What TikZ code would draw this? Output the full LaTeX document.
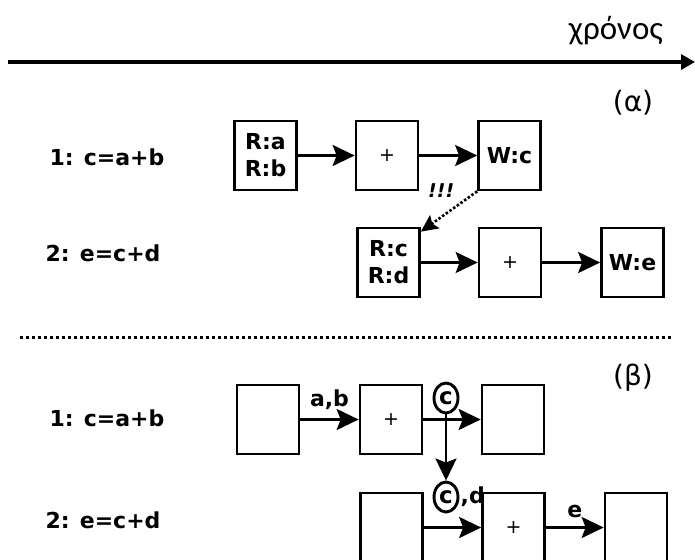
\documentclass[tikz,border=0pt]{standalone}
\usepackage{fontspec}
\setmainfont{DejaVu Sans}
\newfontfamily\timefont{Carlito}
\usetikzlibrary{arrows.meta,shapes.geometric,positioning}

\begin{document}
\begin{tikzpicture}[
  x=1pt,y=-1pt,
  box/.style={draw,line width=2.7pt,minimum width=62pt,minimum height=69pt,inner sep=0pt,align=center,font=\bfseries\fontsize{22}{27}\selectfont},
  plus/.style={box,font=\fontsize{19}{22}\selectfont},
  flow/.style={-{Stealth[length=22pt,width=21pt,inset=4pt]},line width=2.7pt},
  instr/.style={anchor=west,font=\bfseries\fontsize{22}{26}\selectfont},
  tag/.style={font=\fontsize{28}{30}\selectfont},
  circled/.style={draw,ellipse,line width=2.9pt,inner sep=0pt,minimum width=24pt,minimum height=30pt,font=\bfseries\fontsize{23}{24}\selectfont},
  dots/.style={line width=3pt,dash pattern=on 3pt off 3pt}
]
  \useasboundingbox (0,0) rectangle (695,559);

  % time axis
  \coordinate (tstart) at (8,62);
  \coordinate (tend) at (695,62);
  \draw[-{Triangle[length=14pt,width=15pt]},line width=3.2pt] (tstart) -- (tend);
  \node[font=\timefont\fontsize{33}{35}\selectfont] (timelabel) at (616,31) {χρόνος};

  % (a)
  \node[tag] (alpha) at (633,103) {(α)};
  \node[instr] (instrA1) at (46,157) {1: c=a+b};
  \node[instr] (instrA2) at (42,253) {2: e=c+d};

  \node[box] (rdA) at (265.5,155.5) {R:a\\R:b};
  \node[plus] (addA) at (387,155.5) {+};
  \node[box] (wrA) at (509.5,155.5) {W:c};
  \node[box] (rdB) at (388.5,262.5) {R:c\\R:d};
  \node[plus] (addB) at (510,262.5) {+};
  \node[box] (wrB) at (632.5,262.5) {W:e};

  \draw[flow] (rdA) -- (addA);
  \draw[flow] (addA) -- (wrA);
  \draw[flow] (rdB) -- (addB);
  \draw[flow] (addB) -- (wrB);
  \draw[-{Stealth[length=17pt,width=16pt,inset=3pt]},line width=2.6pt,dash pattern=on 2.5pt off 2pt]
    (wrA.south west) -- node[pos=.3,above left=2pt,font=\bfseries\itshape\fontsize{19}{20}\selectfont] {!!!} ([yshift=-5pt]rdB.north east);

  % separator
  \coordinate (sepL) at (20,337);
  \coordinate (sepR) at (672,337);
  \draw[dots] (sepL) -- (sepR);

  % (b)
  \node[tag] (beta) at (633,378) {(β)};
  \node[instr] (instrB1) at (46,418) {1: c=a+b};
  \node[instr] (instrB2) at (42,520) {2: e=c+d};

  \node[box] (ldA) at (268,419.5) {};
  \node[plus] (sumA) at (391,419.5) {+};
  \node[box] (stA) at (513,419.5) {};
  \node[box] (ldB) at (391.5,527.5) {};
  \node[plus] (sumB) at (513.5,527.5) {+};
  \node[box] (stB) at (636,527.5) {};

  \node[circled] (cA) at (446,398) {c};
  \node[circled] (cB) at (446,497) {c};
  \node[right=0pt of cB,font=\bfseries\fontsize{22}{24}\selectfont,inner sep=1pt] (dlabel) {,d};

  \draw[flow] (ldA) -- node[above=5pt,font=\bfseries\fontsize{22}{24}\selectfont] {a,b} (sumA);
  \draw[flow] (sumA) -- (stA);
  \draw[flow] (cA) -- (cB);
  \draw[flow] (ldB) -- (sumB);
  \draw[flow] (sumB) -- node[above=5pt,font=\bfseries\fontsize{22}{24}\selectfont] {e} (stB);
\end{tikzpicture}
\end{document}
